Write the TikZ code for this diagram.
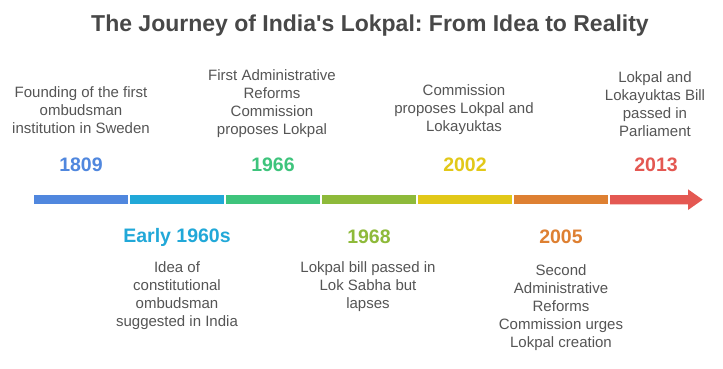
\documentclass[tikz,border=0pt]{standalone}
\usepackage{fontspec}
\setmainfont{Liberation Sans}[Ligatures=TeXOff]
\frenchspacing
\definecolor{cA}{HTML}{5087DE}
\definecolor{cB}{HTML}{21A8D8}
\definecolor{cC}{HTML}{3EC47C}
\definecolor{cD}{HTML}{8EBA3A}
\definecolor{cE}{HTML}{E2C818}
\definecolor{cF}{HTML}{DE8032}
\definecolor{cG}{HTML}{E45852}
\definecolor{txt}{HTML}{555555}
\definecolor{ttl}{HTML}{484848}
\begin{document}
\begin{tikzpicture}[x=1pt,y=-1pt,
  desc/.style={align=center,text=txt,font=\fontsize{15}{18}\selectfont,inner sep=0pt},
  yr/.style={font=\bfseries\fontsize{19.5}{22}\selectfont,inner sep=0pt},
  seg/.style={fill=#1,draw=none}]
\useasboundingbox (0,0) rectangle (723,368);
\fill[white] (0,0) rectangle (723,368);
\node[font=\bfseries\fontsize{23}{26}\selectfont\frenchspacing,text=ttl,inner sep=0pt] (title) at (370,26) {The Journey of India's Lokpal: From Idea to Reality};
% bar
\fill[seg=cA] (34,195) rectangle (127.7,204.3);
\fill[seg=cB] (130,195) rectangle (223.7,204.3);
\fill[seg=cC] (226,195) rectangle (320,204.3);
\fill[seg=cD] (322,195) rectangle (416,204.3);
\fill[seg=cE] (418,195) rectangle (511.7,204.3);
\fill[seg=cF] (514,195) rectangle (607.7,204.3);
\fill[seg=cG] (610,195) -- (688,195) -- (688,189.3) -- (702.7,199.65) -- (688,210) -- (688,204.3) -- (610,204.3) -- cycle;
% top events
\node[desc] (d1) at (81,110) {Founding of the first\\ombudsman\\institution in Sweden};
\node[yr,text=cA] (y1) at (81,165) {1809};
\node[desc] (d3) at (272,104) {First Administrative\\Reforms\\Commission\\proposes Lokpal};
\node[yr,text=cC] (y3) at (273,165) {1966};
\node[desc] (d5) at (464,110) {Commission\\proposes Lokpal and\\Lokayuktas};
\node[yr,text=cE] (y5) at (465,165) {2002};
\node[desc] (d7) at (655,104) {Lokpal and\\Lokayuktas Bill\\passed in\\Parliament};
\node[yr,text=cG] (y7) at (656,165) {2013};
% bottom events
\node[yr,text=cB] (y2) at (177,237) {Early 1960s};
\node[desc] (d2) at (177,296) {Idea of\\constitutional\\ombudsman\\suggested in India};
\node[yr,text=cD] (y4) at (369,237) {1968};
\node[desc] (d4) at (368,287) {Lokpal bill passed in\\Lok Sabha but\\lapses};
\node[yr,text=cF] (y6) at (561,237) {2005};
\node[desc] (d6) at (561,308) {Second\\Administrative\\Reforms\\Commission urges\\Lokpal creation};
\end{tikzpicture}
\end{document}
